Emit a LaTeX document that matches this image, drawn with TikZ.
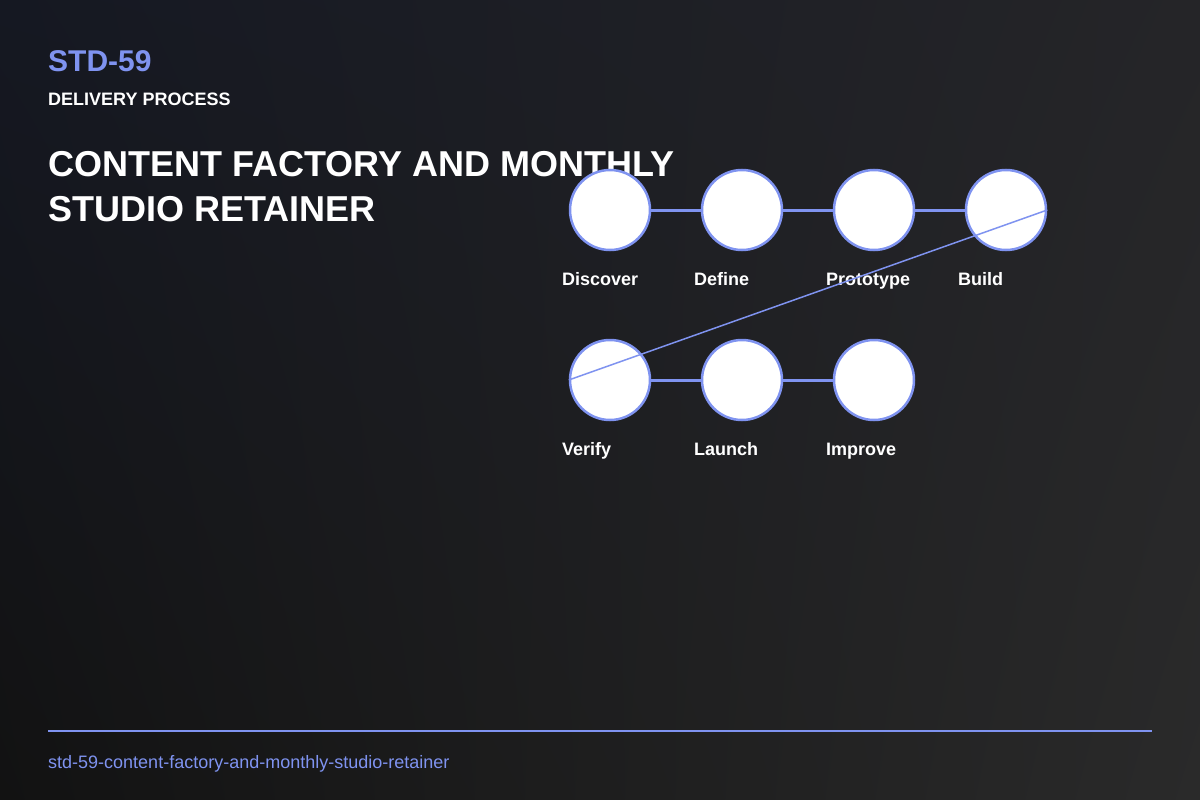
\documentclass[tikz,border=0pt]{standalone}
\usepackage{fontspec}
\setmainfont{Liberation Sans}
\usetikzlibrary{calc}
\usetikzlibrary{shadings}

\definecolor{accent}{HTML}{7F93F0}
\definecolor{bgtl}{HTML}{151822}
\definecolor{bgtr}{HTML}{252528}
\definecolor{bgbl}{HTML}{121212}
\definecolor{bgbr}{HTML}{2A2A2A}

\begin{document}
\begin{tikzpicture}[x=1pt,y=-1pt,
    stage/.style={circle, draw=accent, line width=2.5pt, fill=white, minimum size=80pt, inner sep=0pt},
    link/.style={draw=accent, line width=3pt},
    steplabel/.style={anchor=base west, text=white, inner sep=0pt, font=\bfseries\fontsize{18}{21}\selectfont}]
      % background
      \shade[upper left=bgtl, upper right=bgtr, lower left=bgbl, lower right=bgbr] (0,0) rectangle (1200,800);

      % heading
      \node[anchor=base west, inner sep=0pt, text=accent, font=\bfseries\fontsize{30}{34}\selectfont] (code) at (48,72) {STD-59};
      \node[anchor=base west, inner sep=0pt, text=white, font=\bfseries\fontsize{18}{21}\selectfont] (kind) at (48,105) {DELIVERY PROCESS};
      \node[anchor=base west, inner sep=0pt, text=white, font=\bfseries\fontsize{36}{45}\selectfont] (title1) at (48,176) {CONTENT FACTORY AND MONTHLY};
      \node[anchor=base west, inner sep=0pt, text=white, font=\bfseries\fontsize{36}{45}\selectfont] (title2) at (48,221) {STUDIO RETAINER};

      % stages
      \foreach \name/\x/\y/\txt in {discover/610/210/Discover, define/742/210/Define, prototype/874/210/Prototype, build/1006/210/Build, verify/610/380/Verify, launch/742/380/Launch, improve/874/380/Improve} {
        \node[stage] (\name) at (\x,\y) {};
        \node[steplabel] (\name-lbl) at ($(\name)+(-48,75)$) {\txt};
      }

      \draw[link] (discover) -- (define);
      \draw[link] (define) -- (prototype);
      \draw[link] (prototype) -- (build);
      \draw[link] (verify) -- (launch);
      \draw[link] (launch) -- (improve);
      \draw[accent, line width=1.5pt] (build.east) -- (verify.west);

      % footer
      \coordinate (rulel) at (48,731);
      \coordinate (ruler) at (1152,731);
      \draw[accent, line width=2pt] (rulel) -- (ruler);
      \node[anchor=base west, inner sep=0pt, text=accent, font=\fontsize{18}{21}\selectfont] (slug) at (48,768) {std-59-content-factory-and-monthly-studio-retainer};
    \end{tikzpicture}
\end{document}
